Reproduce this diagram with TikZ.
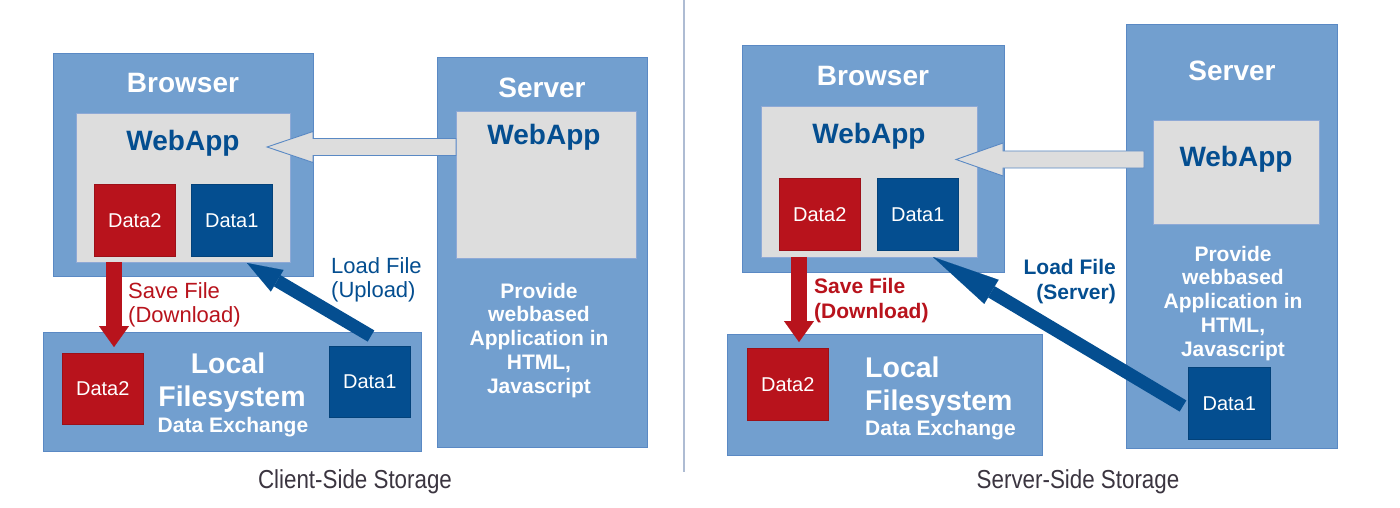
\documentclass[tikz,border=0pt]{standalone}
\usepackage{fontspec}
\setmainfont{Liberation Sans}
\usetikzlibrary{arrows.meta,calc}
\definecolor{boxblue}{HTML}{729FCF}
\definecolor{edgeblue}{HTML}{5A89C4}
\definecolor{appgray}{HTML}{DDDDDD}
\definecolor{grayedge}{HTML}{8EA9D6}
\definecolor{datared}{HTML}{B8131C}
\definecolor{datablue}{HTML}{044E90}
\definecolor{capgray}{HTML}{3B3540}
\definecolor{divider}{HTML}{AEBCD3}
\begin{document}
\begin{tikzpicture}[x=1pt,y=-1pt,
  area/.style={rectangle, draw=edgeblue, line width=0.8pt, fill=boxblue, inner sep=0pt, anchor=north west},
  appbox/.style={rectangle, draw=grayedge, line width=0.8pt, fill=appgray, inner sep=0pt, anchor=north west},
  datared box/.style={rectangle, draw=datared!85!black, line width=0.5pt, fill=datared, inner sep=0pt, anchor=north west, text=white, font=\fontsize{20}{24}\selectfont},
  datablue box/.style={rectangle, draw=datablue!85!black, line width=0.5pt, fill=datablue, inner sep=0pt, anchor=north west, text=white, font=\fontsize{20}{24}\selectfont},
  areatitle/.style={anchor=base, inner sep=0pt, text=white, font=\bfseries\fontsize{28}{30}\selectfont},
  apptitle/.style={anchor=base, inner sep=0pt, text=datablue, font=\bfseries\fontsize{28}{30}\selectfont},
  fsbig/.style={inner sep=0pt, text=white, font=\bfseries\fontsize{28.5}{30}\selectfont},
  fssmall/.style={inner sep=0pt, text=white, font=\bfseries\fontsize{21}{24}\selectfont},
  provide/.style={anchor=base, inner sep=0pt, align=center, text=white, font=\bfseries\fontsize{21}{23.8}\selectfont},
  savelabel/.style={inner sep=0pt, text=datared},
  loadlabel/.style={inner sep=0pt, text=datablue},
  caption/.style={anchor=base, inner sep=0pt, text=capgray, font=\fontsize{26}{30}\selectfont},
  savearrow/.style={draw=datared, line width=16pt, -{Triangle[length=21pt,width=30pt,line width=0.1pt]}},
  loadarrow/.style={draw=datablue, line width=13pt},
  blockarrow/.style={draw=edgeblue, line width=0.9pt, fill=appgray, line join=miter}
]
\useasboundingbox[fill=white] (0,0) rectangle (1400,508);

% divider
\coordinate (divtop) at (684,0);
\coordinate (divbot) at (684,472);
\draw[divider, line width=1.5pt] (divtop) -- (divbot);

%================ LEFT: Client-Side Storage ================
\node[area, minimum width=260, minimum height=223] (lbrowser) at (53,53) {};
\node[areatitle] (lbrowsertitle) at (183,93) {Browser};
\node[appbox, minimum width=214, minimum height=149] (lapp) at (76,113) {};
\node[apptitle] (lapptitle) at (183,150) {WebApp};
\node[datared box, minimum width=81, minimum height=72] (ld2) at (94,184) {Data2};
\node[datablue box, minimum width=81, minimum height=72] (ld1) at (191,184) {Data1};

\node[area, minimum width=210, minimum height=390] (lserver) at (437,57) {};
\node[areatitle] (lservertitle) at (542,98) {Server};
\node[appbox, minimum width=180, minimum height=147] (lsapp) at (456,111) {};
\node[apptitle] (lsapptitle) at (544,145) {WebApp};
% base anchor of a multi-line node = baseline of its last line
\node[provide] (lprovide) at (539,393.2) {Provide\\webbased\\Application in\\HTML,\\Javascript};

\node[area, minimum width=378, minimum height=119] (lfs) at (43,332) {};
\node[fsbig, anchor=base] (lfs1) at (228,373) {Local};
\node[fsbig, anchor=base] (lfs2) at (232,406) {Filesystem};
\node[fssmall, anchor=base] (lfs3) at (233,432) {Data Exchange};
\node[datared box, minimum width=81, minimum height=71] (lfd2) at (62,353) {Data2};
\node[datablue box, minimum width=81, minimum height=71] (lfd1) at (329,346) {Data1};

% gray block arrow (server webapp -> browser webapp)
\coordinate (lgtail) at (lsapp.west |- 0,147);
\coordinate (lgtip) at (267,147);
\draw[blockarrow] ($(lgtail)+(0,-8.5)$) -- ($(lgtip)+(46,-8.5)$) -- ($(lgtip)+(46,-15.5)$) -- (lgtip)
  -- ($(lgtip)+(46,15.5)$) -- ($(lgtip)+(46,8.5)$) -- ($(lgtail)+(0,8.5)$) -- cycle;

% save arrow
\coordinate (lsaveA) at (114,262);
\coordinate (lsaveB) at (114,347);
\draw[savearrow] (lsaveA) -- (lsaveB);
\node[savelabel, anchor=base west, align=left, font=\fontsize{22}{24}\selectfont] (lsavetxt) at (128,322) {Save File\\(Download)};

% load arrow
\coordinate (lloadA) at (371,336);
\coordinate (lloadB) at (247,263);
\draw[loadarrow, -{Triangle[length=35pt,width=25pt,line width=0.1pt]}] (lloadA) -- (lloadB);
\node[loadlabel, anchor=base west, align=left, font=\fontsize{22}{24}\selectfont] (lloadtxt) at (331,297) {Load File\\(Upload)};

\node[caption] (lcap) at (355,488) {\scalebox{0.86}[1]{Client-Side Storage}};

%================ RIGHT: Server-Side Storage ================
\node[area, minimum width=262, minimum height=227] (rbrowser) at (742,45) {};
\node[areatitle] (rbrowsertitle) at (873,86) {Browser};
\node[appbox, minimum width=216, minimum height=151] (rapp) at (761,106) {};
\node[apptitle] (rapptitle) at (869,143) {WebApp};
\node[datared box, minimum width=81, minimum height=72] (rd2) at (779,178) {Data2};
\node[datablue box, minimum width=81, minimum height=72] (rd1) at (877,178) {Data1};

\node[area, minimum width=211, minimum height=424] (rserver) at (1126,24) {};
\node[areatitle] (rservertitle) at (1232,81) {Server};
\node[appbox, minimum width=166, minimum height=104] (rsapp) at (1153,120) {};
\node[apptitle] (rsapptitle) at (1236,166) {WebApp};
\node[provide] (rprovide) at (1233,356.2) {Provide\\webbased\\Application in\\HTML,\\Javascript};
\node[datablue box, minimum width=82, minimum height=72] (rsd1) at (1188,367) {Data1};

\node[area, minimum width=315, minimum height=121] (rfs) at (727,334) {};
\node[fsbig, anchor=base west] (rfs1) at (865,377) {Local};
\node[fsbig, anchor=base west] (rfs2) at (865,410) {Filesystem};
\node[fssmall, anchor=base west] (rfs3) at (865,435) {Data Exchange};
\node[datared box, minimum width=81, minimum height=72] (rfd2) at (747,348) {Data2};

% gray block arrow
\coordinate (rgtail) at (1144,159.5);
\coordinate (rgtip) at (956,159.5);
\draw[blockarrow] ($(rgtail)+(0,-8.5)$) -- ($(rgtip)+(47,-8.5)$) -- ($(rgtip)+(47,-16.5)$) -- (rgtip)
  -- ($(rgtip)+(47,16.5)$) -- ($(rgtip)+(47,8.5)$) -- ($(rgtail)+(0,8.5)$) -- cycle;

% save arrow
\coordinate (rsaveA) at (799,257);
\coordinate (rsaveB) at (799,342);
\draw[savearrow] (rsaveA) -- (rsaveB);
\node[savelabel, anchor=base west, align=left, font=\bfseries\fontsize{21}{25}\selectfont] (rsavetxt) at (814,318) {Save File\\(Download)};

% load arrow
\coordinate (rloadA) at (1183,406);
\coordinate (rloadB) at (933,257);
\draw[loadarrow, -{Triangle[length=68pt,width=28pt,line width=0.1pt]}] (rloadA) -- (rloadB);
\node[loadlabel, anchor=base east, align=right, font=\bfseries\fontsize{21}{25}\selectfont] (rloadtxt) at (1116,299) {Load File\\(Server)};

\node[caption] (rcap) at (1078,488) {\scalebox{0.86}[1]{Server-Side Storage}};
\end{tikzpicture}
\end{document}
